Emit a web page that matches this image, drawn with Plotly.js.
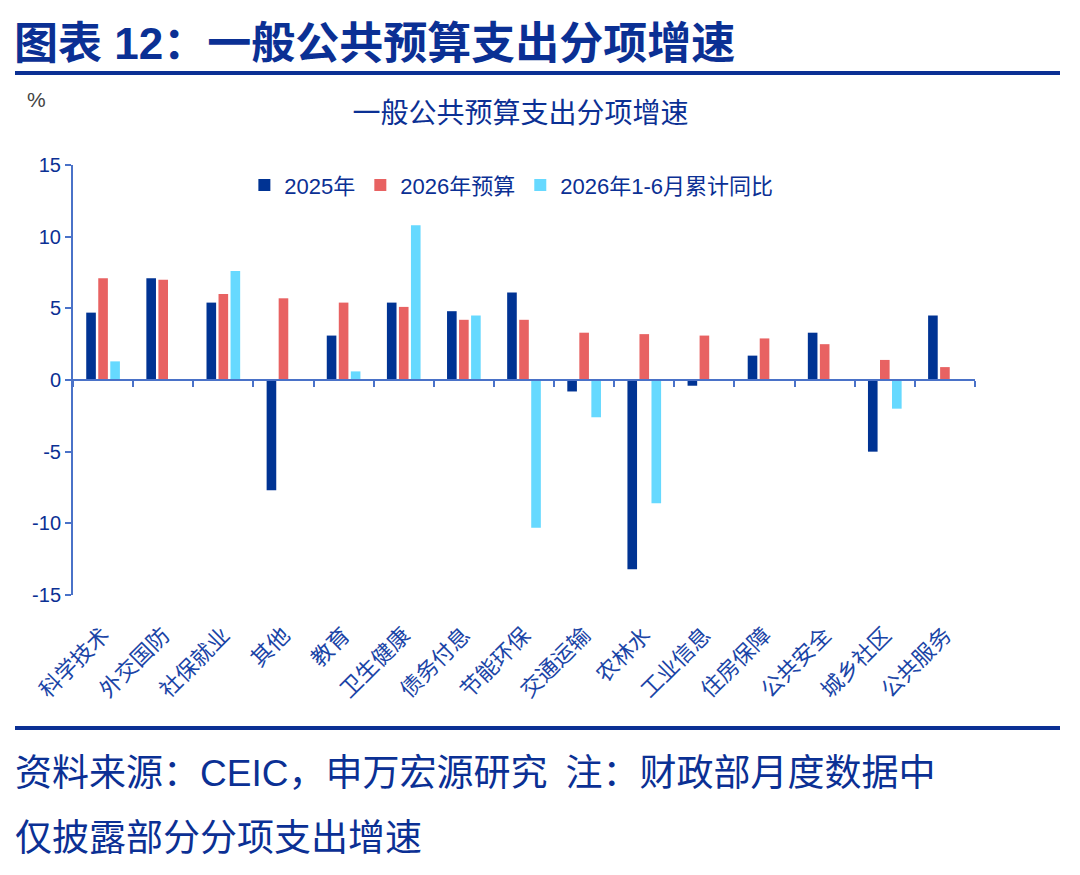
<!DOCTYPE html>
<html>
<head>
<meta charset="utf-8">
<script src="https://cdn.plot.ly/plotly-3.0.1.min.js"></script>
<style>
  body { margin: 0; background: #fff; }
  #wrap { position: relative; width: 1080px; height: 875px; overflow: hidden; }
  #chart { position: absolute; left: 0; top: 0; width: 1080px; height: 875px; }
  .cn { font-family: "Liberation Sans", "Noto Sans CJK SC", sans-serif; color: #0b3094; position: absolute; white-space: nowrap; line-height: 1; }
  #head { left: 14px; top: 22px; font-size: 44px; font-weight: bold; }
  #foot1 { left: 15px; top: 755px; font-size: 37px; }
  #foot2 { left: 15px; top: 820px; font-size: 37px; }
  .gap { display: inline-block; width: 18px; }
  .rule { position: absolute; left: 15px; width: 1045px; height: 4px; background: #0b3094; }
</style>
</head>
<body>
<div id="wrap">
  <div id="chart"></div>
  <div class="cn" id="head">图表 12：一般公共预算支出分项增速</div>
  <div class="rule" style="top:71px"></div>
  <div class="rule" style="top:726px"></div>
  <div class="cn" id="foot1">资料来源：CEIC，申万宏源研究<span class="gap"></span>注：财政部月度数据中</div>
  <div class="cn" id="foot2">仅披露部分分项支出增速</div>
</div>
<script>
"use strict";
// categories
const categories = ['科学技术', '外交国防', '社保就业', '其他', '教育', '卫生健康', '债务付息',
  '节能环保', '交通运输', '农林水', '工业信息', '住房保障', '公共安全', '城乡社区', '公共服务'];
// series (%)
const y2025 = [4.7, 7.1, 5.4, -7.7, 3.1, 5.4, 4.8, 6.1, -0.8, -13.2, -0.4, 1.7, 3.3, -5.0, 4.5];
const budget2026 = [7.1, 7.0, 6.0, 5.7, 5.4, 5.1, 4.2, 4.2, 3.3, 3.2, 3.1, 2.9, 2.5, 1.4, 0.9];
const ytd2026 = [1.3, null, 7.6, null, 0.6, 10.8, 4.5, -10.3, -2.6, -8.6, null, null, null, -2.0, null];
const seriesNames = ['2025年', '2026年预算', '2026年1-6月累计同比'];
const yTicks = [-15, -10, -5, 0, 5, 10, 15];

const FONT = '"Liberation Sans", "Noto Sans CJK SC", sans-serif';
const BLUE_TXT = '#0b3094';
const AXIS = '#4a72c8';

const colors = ['#003393', '#E86262', '#66D9FF'];
const traces = [y2025, budget2026, ytd2026].map(function (vals, i) {
  return {
    type: 'bar',
    name: seriesNames[i],
    x: categories,
    y: vals,
    marker: { color: colors[i], line: { width: 0 } },
    hoverinfo: 'x+y'
  };
});

// category boundaries, for the tick marks on the zero line
const bounds = [];
for (let i = 0; i <= categories.length; i++) bounds.push(i - 0.5);

// invisible carrier so the zero-line axis gets drawn
traces.push({
  type: 'scatter',
  mode: 'lines',
  x: bounds,
  y: bounds.map(function () { return 0; }),
  xaxis: 'x2',
  line: { color: 'rgba(0,0,0,0)', width: 0 },
  showlegend: false,
  hoverinfo: 'skip'
});

const layout = {
  width: 1080,
  height: 875,
  margin: { l: 73, r: 105, t: 165, b: 280 },
  paper_bgcolor: '#fff',
  plot_bgcolor: '#fff',
  font: { family: FONT, color: BLUE_TXT, size: 20 },
  barmode: 'group',
  bargap: 0.4,
  bargroupgap: 0.2,
  showlegend: true,
  legend: {
    orientation: 'h',
    x: 0.486, xanchor: 'center',
    y: 0.953, yanchor: 'middle',
    font: { size: 22, color: BLUE_TXT },
    itemwidth: 30,
    tracegroupgap: 0,
    bgcolor: 'rgba(0,0,0,0)'
  },
  title: {
    text: '一般公共预算支出分项增速',
    font: { size: 28, color: BLUE_TXT, family: FONT },
    x: 0.482, xanchor: 'center',
    y: 1 - 113 / 875, yanchor: 'middle'
  },
  xaxis: {
    type: 'category',
    showline: false,
    showgrid: false,
    zeroline: false,
    ticks: '',
    tickangle: -45,
    ticklabelstandoff: 22,
    tickfont: { size: 22, color: '#1a44a6' },
    fixedrange: true
  },
  xaxis2: {
    overlaying: 'x',
    anchor: 'free',
    position: 0.5,
    range: [-0.5, categories.length - 0.5],
    tickvals: bounds,
    showticklabels: false,
    ticks: 'outside',
    ticklen: 6,
    tickwidth: 2,
    tickcolor: AXIS,
    showline: true,
    linecolor: AXIS,
    linewidth: 2,
    showgrid: false,
    zeroline: false,
    fixedrange: true
  },
  yaxis: {
    range: [-15, 15],
    tickvals: yTicks,
    ticktext: yTicks.map(String),
    showgrid: false,
    zeroline: false,
    showline: true,
    linecolor: AXIS,
    linewidth: 2,
    ticks: 'outside',
    ticklen: 6,
    tickwidth: 2,
    tickcolor: AXIS,
    tickfont: { size: 20, color: BLUE_TXT },
    fixedrange: true
  },
  annotations: [{
    text: '%',
    xref: 'paper', yref: 'paper',
    x: -37 / 902, y: (595 - 100) / 430,
    xanchor: 'center', yanchor: 'middle',
    showarrow: false,
    font: { size: 21, color: '#444' }
  }]
};

Plotly.newPlot('chart', traces, layout, { staticPlot: true, displayModeBar: false });
</script>
</body>
</html>
